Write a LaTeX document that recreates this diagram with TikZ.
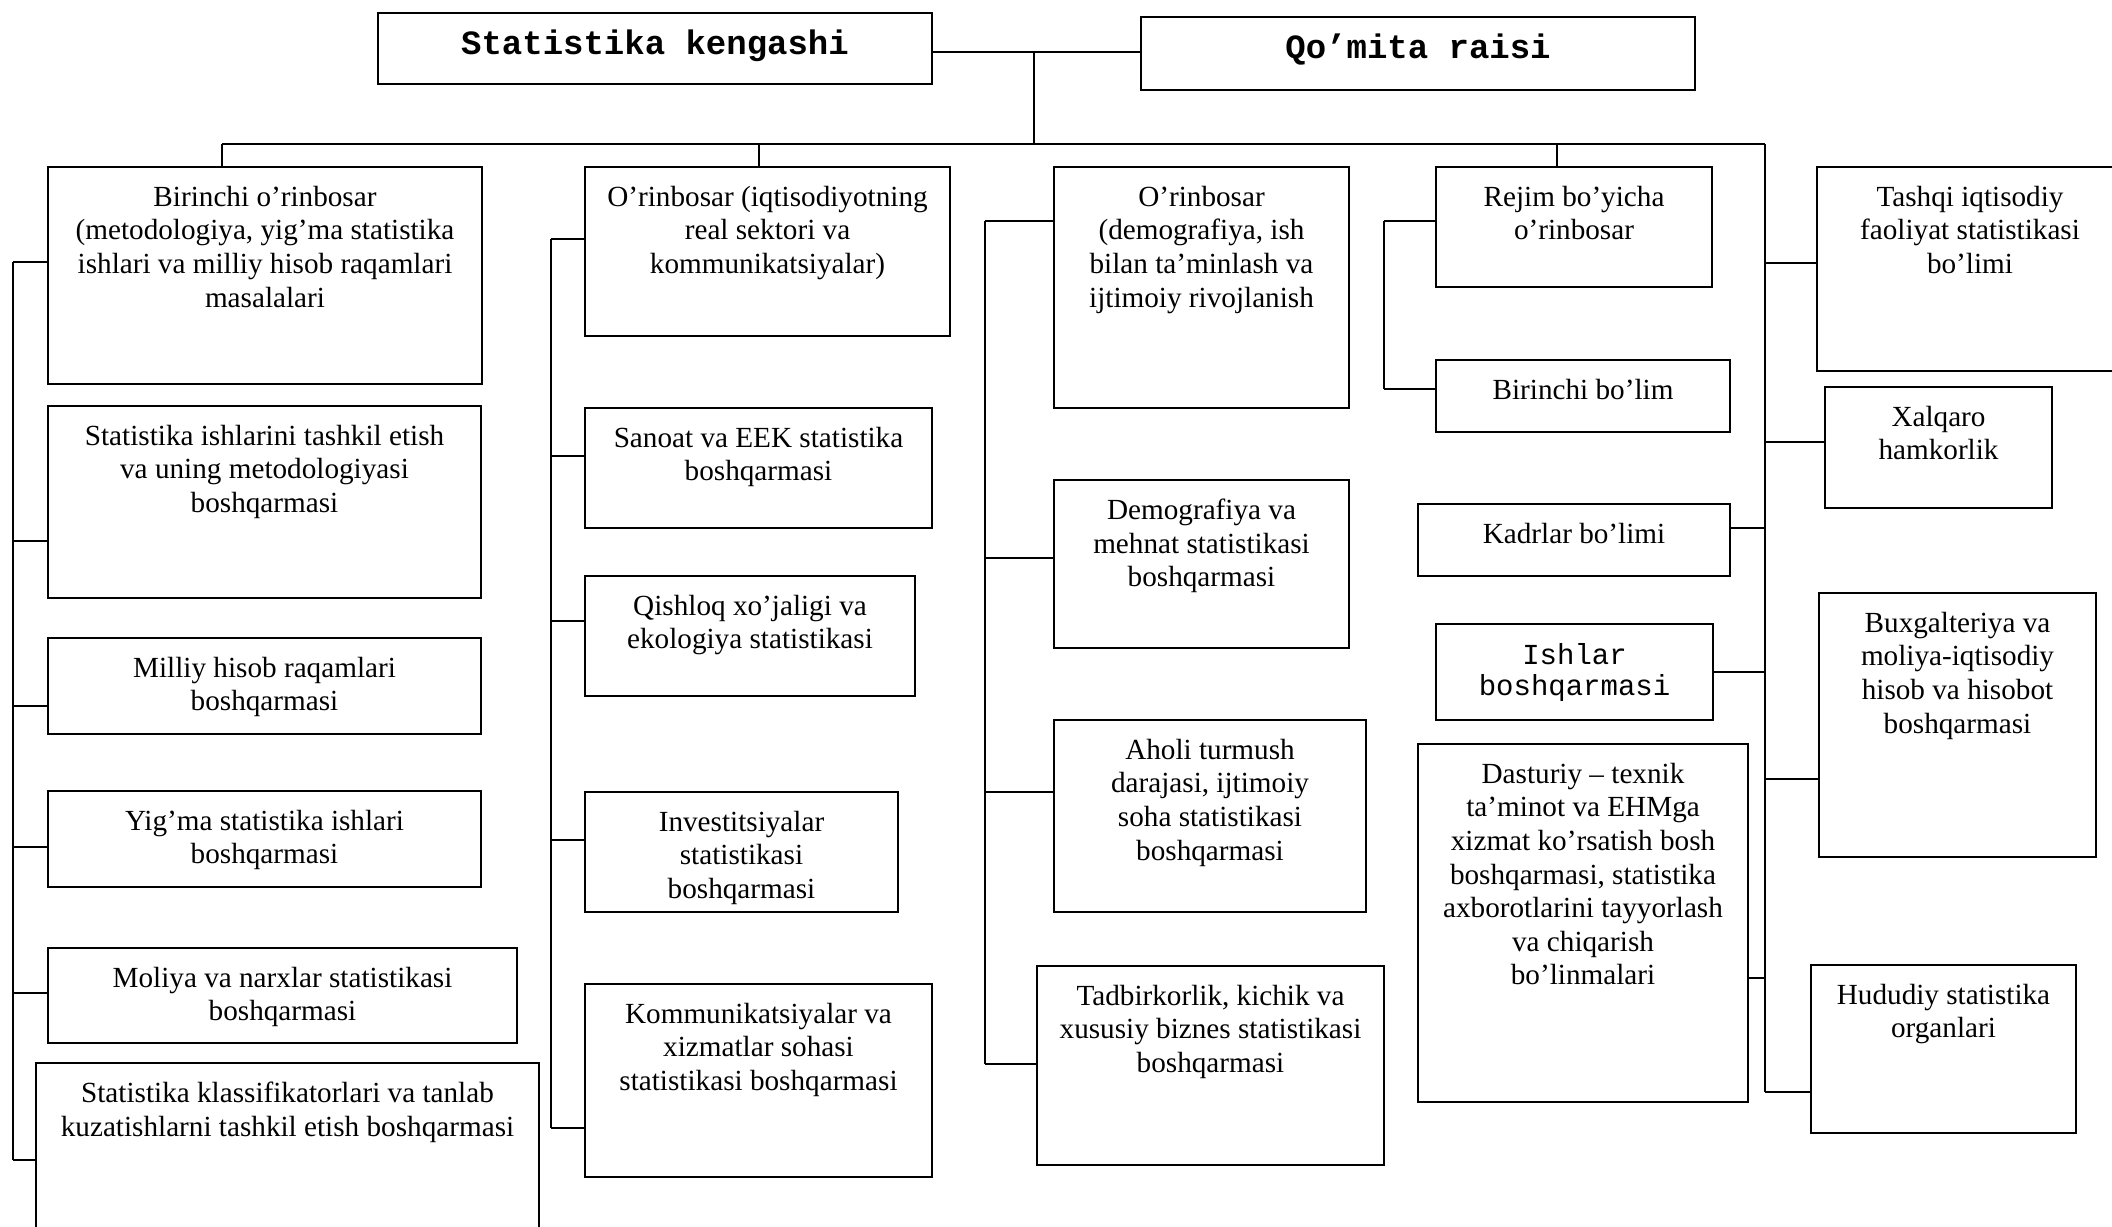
\documentclass[tikz,border=0pt]{standalone}
\usepackage{fontspec}
\setmainfont{Liberation Serif}
\newfontfamily\cour{Liberation Mono}
\usetikzlibrary{positioning}

\begin{document}
\begin{tikzpicture}[x=0.5pt, y=-0.5pt, line width=0.8pt]
    \tikzstyle{unit}=[rectangle, draw, inner sep=0]
    \tikzstyle{unit text}=[inner sep=0, align=center, font={\fontsize{14.6}{16.8}\selectfont}]
    \tikzstyle{head text}=[unit text, font={\cour\bfseries\fontsize{17}{20}\selectfont}]
    \tikzstyle{mono text}=[unit text, font={\cour\fontsize{14.5}{15.5}\selectfont}]

    \useasboundingbox (0,0) rectangle (2112,1226);
    \clip (0,0) rectangle (2112,1226);

    % top
    \node[unit, minimum width=277pt, minimum height=35.5pt] (sk) at (655,48.5) {};
    \node[head text, below=8.2pt of sk.north] (skt) {Statistika kengashi};
    \node[unit, minimum width=277pt, minimum height=36.5pt] (qr) at (1418,53.5) {};
    \node[head text, below=8.2pt of qr.north] (qrt) {Qo’mita raisi};

    % column 1
    \node[unit, minimum width=217pt, minimum height=108.5pt] (b1) at (265,275.5) {};
    \node[unit text, below=9.5pt of b1.north] (b1t) {Birinchi o’rinbosar\\(metodologiya, yig’ma statistika\\ishlari va milliy hisob raqamlari\\masalalari};
    \node[unit, minimum width=216.5pt, minimum height=96pt] (org) at (264.5,502) {};
    \node[unit text, below=9.5pt of org.north] (orgt) {Statistika ishlarini tashkil etish\\va uning metodologiyasi\\boshqarmasi};
    \node[unit, minimum width=216.5pt, minimum height=48pt] (milliy) at (264.5,686) {};
    \node[unit text, below=9.5pt of milliy.north] (milliyt) {Milliy hisob raqamlari\\boshqarmasi};
    \node[unit, minimum width=216.5pt, minimum height=48pt] (yigma) at (264.5,839) {};
    \node[unit text, below=9.5pt of yigma.north] (yigmat) {Yig’ma statistika ishlari\\boshqarmasi};
    \node[unit, minimum width=234.5pt, minimum height=47.5pt] (moliya) at (282.5,995.5) {};
    \node[unit text, below=9.5pt of moliya.north] (moliyat) {Moliya va narxlar statistikasi\\boshqarmasi};
    \node[unit, minimum width=251.5pt, minimum height=98.5pt] (klass) at (287.5,1161.5) {};
    \node[unit text, below=9.5pt of klass.north] (klasst) {Statistika klassifikatorlari va tanlab\\kuzatishlarni tashkil etish boshqarmasi};

    % column 2
    \node[unit, minimum width=182.5pt, minimum height=84.5pt] (b2) at (767.5,251.5) {};
    \node[unit text, below=9.5pt of b2.north] (b2t) {O’rinbosar (iqtisodiyotning\\real sektori va\\kommunikatsiyalar)};
    \node[unit, minimum width=173.5pt, minimum height=60pt] (sanoat) at (758.5,468) {};
    \node[unit text, below=9.5pt of sanoat.north] (sanoatt) {Sanoat va EEK statistika\\boshqarmasi};
    \node[unit, minimum width=165pt, minimum height=60pt] (qishloq) at (750,636) {};
    \node[unit text, below=9.5pt of qishloq.north] (qishloqt) {Qishloq xo’jaligi va\\ekologiya statistikasi};
    \node[unit, minimum width=156.5pt, minimum height=60pt] (invest) at (741.5,852) {};
    \node[unit text, below=9.5pt of invest.north] (investt) {Investitsiyalar\\statistikasi\\boshqarmasi};
    \node[unit, minimum width=173.5pt, minimum height=96.5pt] (kommun) at (758.5,1080.5) {};
    \node[unit text, below=9.5pt of kommun.north] (kommunt) {Kommunikatsiyalar va\\xizmatlar sohasi\\statistikasi boshqarmasi};

    % column 3
    \node[unit, minimum width=147.5pt, minimum height=120.5pt] (b3) at (1201.5,287.5) {};
    \node[unit text, below=9.5pt of b3.north] (b3t) {O’rinbosar\\(demografiya, ish\\bilan ta’minlash va\\ijtimoiy rivojlanish};
    \node[unit, minimum width=147.5pt, minimum height=84pt] (demog) at (1201.5,564) {};
    \node[unit text, below=9.5pt of demog.north] (demogt) {Demografiya va\\mehnat statistikasi\\boshqarmasi};
    \node[unit, minimum width=156pt, minimum height=96pt] (aholi) at (1210,816) {};
    \node[unit text, below=9.5pt of aholi.north] (aholit) {Aholi turmush\\darajasi, ijtimoiy\\soha statistikasi\\boshqarmasi};
    \node[unit, minimum width=173.5pt, minimum height=99.5pt] (tadbir) at (1210.5,1065.5) {};
    \node[unit text, below=9.5pt of tadbir.north] (tadbirt) {Tadbirkorlik, kichik va\\xususiy biznes statistikasi\\boshqarmasi};

    % column 4
    \node[unit, minimum width=138pt, minimum height=60pt] (rejim) at (1574,227) {};
    \node[unit text, below=9.5pt of rejim.north] (rejimt) {Rejim bo’yicha\\o’rinbosar};
    \node[unit, minimum width=147pt, minimum height=36pt] (bbolim) at (1583,396) {};
    \node[unit text, below=9.5pt of bbolim.north] (bbolimt) {Birinchi bo’lim};
    \node[unit, minimum width=156pt, minimum height=36pt] (kadr) at (1574,540) {};
    \node[unit text, below=9.5pt of kadr.north] (kadrt) {Kadrlar bo’limi};
    \node[unit, minimum width=138.5pt, minimum height=48pt] (ishlar) at (1574.5,672) {};
    \node[mono text, below=9.5pt of ishlar.north] (ishlart) {Ishlar\\boshqarmasi};
    \node[unit, minimum width=165pt, minimum height=179pt] (dastur) at (1583,923) {};
    \node[unit text, below=9.5pt of dastur.north] (dasturt) {Dasturiy – texnik\\ta’minot va EHMga\\xizmat ko’rsatish bosh\\boshqarmasi, statistika\\axborotlarini tayyorlash\\va chiqarish\\bo’linmalari};

    % column 5
    \node[unit, minimum width=153pt, minimum height=102pt] (tashqi) at (1970,269) {};
    \node[unit text, below=9.5pt of tashqi.north] (tashqit) {Tashqi iqtisodiy\\faoliyat statistikasi\\bo’limi};
    \node[unit, minimum width=113.5pt, minimum height=60.5pt] (xalqaro) at (1938.5,447.5) {};
    \node[unit text, below=9.5pt of xalqaro.north] (xalqarot) {Xalqaro\\hamkorlik};
    \node[unit, minimum width=138.5pt, minimum height=132pt] (bux) at (1957.5,725) {};
    \node[unit text, below=9.5pt of bux.north] (buxt) {Buxgalteriya va\\moliya-iqtisodiy\\hisob va hisobot\\boshqarmasi};
    \node[unit, minimum width=132.5pt, minimum height=84pt] (hudud) at (1943.5,1049) {};
    \node[unit text, below=9.5pt of hudud.north] (hududt) {Hududiy statistika\\organlari};

    % bus and spines
    \coordinate (top) at (1034,52);
    \coordinate (bus) at (1034,144);
    \coordinate (busL) at (222,144);
    \coordinate (busR) at (1765,144);
    \coordinate (d2) at (759,144);
    \coordinate (d4) at (1557,144);
    \draw (sk.east |- top) -- (qr.west |- top);
    \draw (top) -- (bus);
    \draw (busL) -- (busR);
    \draw (busL) -- (b1.north -| busL);
    \draw (d2) -- (b2.north -| d2);
    \draw (d4) -- (rejim.north -| d4);

    \coordinate (c1a) at (13,262);
    \coordinate (c1b) at (13,541);
    \coordinate (c1c) at (13,706);
    \coordinate (c1d) at (13,847);
    \coordinate (c1e) at (13,993);
    \coordinate (c1f) at (13,1160);
    \draw (c1a) -- (c1f);
    \draw (c1a) -- (b1.west |- c1a);
    \draw (c1b) -- (org.west |- c1b);
    \draw (c1c) -- (milliy.west |- c1c);
    \draw (c1d) -- (yigma.west |- c1d);
    \draw (c1e) -- (moliya.west |- c1e);
    \draw (c1f) -- (klass.west |- c1f);

    \coordinate (c2a) at (551,239);
    \coordinate (c2b) at (551,456);
    \coordinate (c2c) at (551,621);
    \coordinate (c2d) at (551,840);
    \coordinate (c2e) at (551,1128);
    \draw (c2a) -- (c2e);
    \draw (c2a) -- (b2.west |- c2a);
    \draw (c2b) -- (sanoat.west |- c2b);
    \draw (c2c) -- (qishloq.west |- c2c);
    \draw (c2d) -- (invest.west |- c2d);
    \draw (c2e) -- (kommun.west |- c2e);

    \coordinate (c3a) at (985,221);
    \coordinate (c3b) at (985,558);
    \coordinate (c3c) at (985,792);
    \coordinate (c3d) at (985,1064);
    \draw (c3a) -- (c3d);
    \draw (c3a) -- (b3.west |- c3a);
    \draw (c3b) -- (demog.west |- c3b);
    \draw (c3c) -- (aholi.west |- c3c);
    \draw (c3d) -- (tadbir.west |- c3d);

    \coordinate (c4a) at (1384,221);
    \coordinate (c4b) at (1384,389);
    \draw (c4a) -- (c4b);
    \draw (c4a) -- (rejim.west |- c4a);
    \draw (c4b) -- (bbolim.west |- c4b);

    \coordinate (m1) at (1765,263);
    \coordinate (m2) at (1765,442);
    \coordinate (m3) at (1765,528);
    \coordinate (m4) at (1765,672);
    \coordinate (m5) at (1765,779);
    \coordinate (m6) at (1765,978);
    \coordinate (mainB) at (1765,1092);
    \draw (busR) -- (mainB);
    \draw (m1) -- (tashqi.west |- m1);
    \draw (m2) -- (xalqaro.west |- m2);
    \draw (m3) -- (kadr.east |- m3);
    \draw (m4) -- (ishlar.east |- m4);
    \draw (m5) -- (bux.west |- m5);
    \draw (m6) -- (dastur.east |- m6);
    \draw (mainB) -- (hudud.west |- mainB);
  \end{tikzpicture}
\end{document}
